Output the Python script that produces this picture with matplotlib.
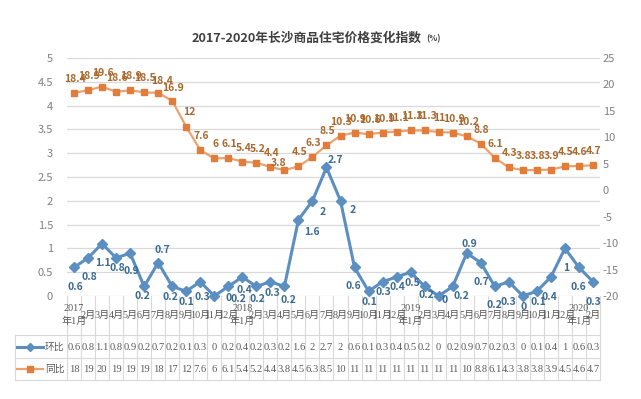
import matplotlib
matplotlib.use("Agg")
import matplotlib.pyplot as plt
import matplotlib.transforms as mtransforms

plt.rcParams["font.family"] = ["Noto Sans CJK SC", "DejaVu Sans"]
plt.rcParams["axes.unicode_minus"] = False

# ---- data ----
years = ["2017", "2018", "2019", "2020"]
months_per_year = [12, 12, 12, 2]
mom = [0.6, 0.8, 1.1, 0.8, 0.9, 0.2, 0.7, 0.2, 0.1, 0.3, 0, 0.2,
       0.4, 0.2, 0.3, 0.2, 1.6, 2, 2.7, 2, 0.6, 0.1, 0.3, 0.4,
       0.5, 0.2, 0, 0.2, 0.9, 0.7, 0.2, 0.3, 0, 0.1, 0.4, 1,
       0.6, 0.3]
yoy = [18.4, 18.9, 19.6, 18.6, 18.9, 18.5, 18.4, 16.9, 12, 7.6, 6, 6.1,
       5.4, 5.2, 4.4, 3.8, 4.5, 6.3, 8.5, 10.3, 10.9, 10.6, 10.9, 11.1,
       11.3, 11.3, 11, 10.9, 10.2, 8.8, 6.1, 4.3, 3.8, 3.8, 3.9, 4.5,
       4.6, 4.7]
left_ticks = [0, 0.5, 1, 1.5, 2, 2.5, 3, 3.5, 4, 4.5, 5]
right_ticks = [-20, -15, -10, -5, 0, 5, 10, 15, 20, 25]

x_labels = []
for y, n in zip(years, months_per_year):
    for m in range(1, n + 1):
        x_labels.append(f"{y}\n年1月" if m == 1 else f"{m}月")

# label offsets (pixels) for the 环比 data labels
_MOM_OFF = [(1, -20), (1, -19), (1, -19), (1, -10), (1, -18), (-2, -10), (4, 13), (-2, -11),
            (0, -11), (2, -15), (14, -2), (10, -13), (2, -13), (1, -13), (2, -11), (4, -14),
            (14, -12), (10, -11), (9, 7), (12, -9), (-1, -19), (1, -11), (1, -10), (1, -10),
            (2, -11), (2, -9), (6, -4), (9, -10), (3, 9), (1, -19), (0, -19), (0, -20),
            (1, -11), (1, -11), (-2, -20), (1, -20), (-1, -20), (0, -20)]
_YOY_OFF = {6: (4, 12), 7: (1, 13), 8: (3, 15), 15: (-6, 7)}

BLUE = "#5b8ec1"
BLUE_TXT = "#3b6b92"
ORANGE = "#e27c3a"
ORANGE_LINE = "#eba26f"
ORANGE_TXT = "#a8692e"
GRID = "#d9d9d9"
TICK = "#808080"
TABLE_TXT = "#595959"

W, H = 641, 399
PL, PR, PT, PB = 67, 600, 58, 296


def fmt(v):
    # excel style: two significant digits, half up
    if v >= 10:
        return str(int(v + 0.5))
    s = f"{v:.1f}"
    return s[:-2] if s.endswith(".0") else s


def ay(ypix):
    return (PB - ypix) / (PB - PT)


fig = plt.figure(figsize=(W / 100, H / 100), dpi=100)
fig.patch.set_facecolor("white")
ax = fig.add_axes([PL / W, (H - PB) / H, (PR - PL) / W, (PB - PT) / H])
ax2 = ax.twinx()

n = len(mom)
xs = list(range(n))
ax.set_xlim(-0.5, n - 0.5)
ax.set_ylim(0, 5)
ax2.set_ylim(-20, 25)
ax.set_yticks(left_ticks)
ax.set_yticklabels([f"{t:g}" for t in left_ticks])
ax2.set_yticks(right_ticks)
ax.set_xticks([])
ax.yaxis.grid(True, color=GRID, lw=0.9)
ax.set_axisbelow(True)
for a in (ax, ax2):
    for s in a.spines.values():
        s.set_visible(False)
ax.tick_params(axis="y", length=0, labelcolor=TICK, labelsize=8, pad=10)
ax2.tick_params(axis="y", length=0, labelcolor=TICK, labelsize=8, pad=2)

ax.plot(xs, mom, color=BLUE, lw=2.2, marker="D", ms=5, zorder=3, clip_on=False)
ax2.plot(xs, yoy, color=ORANGE_LINE, lw=1.6, marker="s", ms=5,
         markerfacecolor=ORANGE, markeredgecolor=ORANGE, zorder=3, clip_on=False)

for i, v in enumerate(mom):
    dx, dy = _MOM_OFF[i]
    ax.annotate(fmt(v), (i, v), xytext=(dx, dy), textcoords="offset pixels",
                ha="center", va="center", fontsize=7.5, fontweight="bold",
                color=BLUE_TXT, annotation_clip=False)
for i, v in enumerate(yoy):
    dx, dy = _YOY_OFF.get(i, (1, 14))
    ax2.annotate(f"{v:g}", (i, v), xytext=(dx, dy), textcoords="offset pixels",
                 ha="center", va="center", fontsize=7.5, fontweight="bold",
                 color=ORANGE_TXT, annotation_clip=False)

# ---- category labels and data table ----
trans = mtransforms.blended_transform_factory(ax.transData, ax.transAxes)
serif = ["Liberation Serif", "Noto Sans CJK SC"]
ROW1, ROW2, T0, T1, T2 = 347, 369, 335, 358, 380

for i in range(n + 1):
    ax.plot([i - 0.5, i - 0.5], [ay(PB), ay(T2)], transform=trans,
            color=GRID, lw=0.8, clip_on=False)
for i, lab in enumerate(x_labels):
    ax.text(i, ay(315), lab, transform=trans, ha="center", va="center",
            fontsize=7.3, color=TABLE_TXT, family=serif, linespacing=1.55,
            clip_on=False)
    ax.text(i, ay(ROW1), fmt(mom[i]), transform=trans, ha="center",
            va="center", fontsize=7.6, color=TABLE_TXT, family=serif, clip_on=False)
    ax.text(i, ay(ROW2), fmt(yoy[i]), transform=trans, ha="center",
            va="center", fontsize=7.6, color=TABLE_TXT, family=serif, clip_on=False)

# overlay in pixel coords for the legend column of the table
ov = fig.add_axes([0, 0, 1, 1], zorder=-1)
ov.set_xlim(0, W)
ov.set_ylim(H, 0)
ov.axis("off")
for yy in (T0, T1, T2):
    ov.plot([15, PR], [yy, yy], color=GRID, lw=0.8)
ov.plot([15, 15], [T0, T2], color=GRID, lw=0.8)
ov.plot([17, 43], [ROW1, ROW1], color=BLUE, lw=2.2)
ov.plot([30], [ROW1], marker="D", ms=4.5, color=BLUE)
ov.plot([17, 43], [ROW2, ROW2], color=ORANGE_LINE, lw=1.6)
ov.plot([30], [ROW2], marker="s", ms=4.5, color=ORANGE)
ov.text(45, ROW1, "环比", ha="left", va="center", fontsize=7, color=TABLE_TXT)
ov.text(45, ROW2, "同比", ha="left", va="center", fontsize=7, color=TABLE_TXT)

t = ov.text(307, 38, "2017-2020年长沙商品住宅价格变化指数", ha="center",
            va="center", fontsize=9.2, fontweight="bold", color="#404040")
ov.annotate("(%)", xy=(1, 0.45), xycoords=t, xytext=(4, 0),
            textcoords="offset pixels", ha="left", va="center",
            fontsize=6, fontweight="bold", color="#404040")

fig.savefig("out.png", dpi=100)
plt.close(fig)
